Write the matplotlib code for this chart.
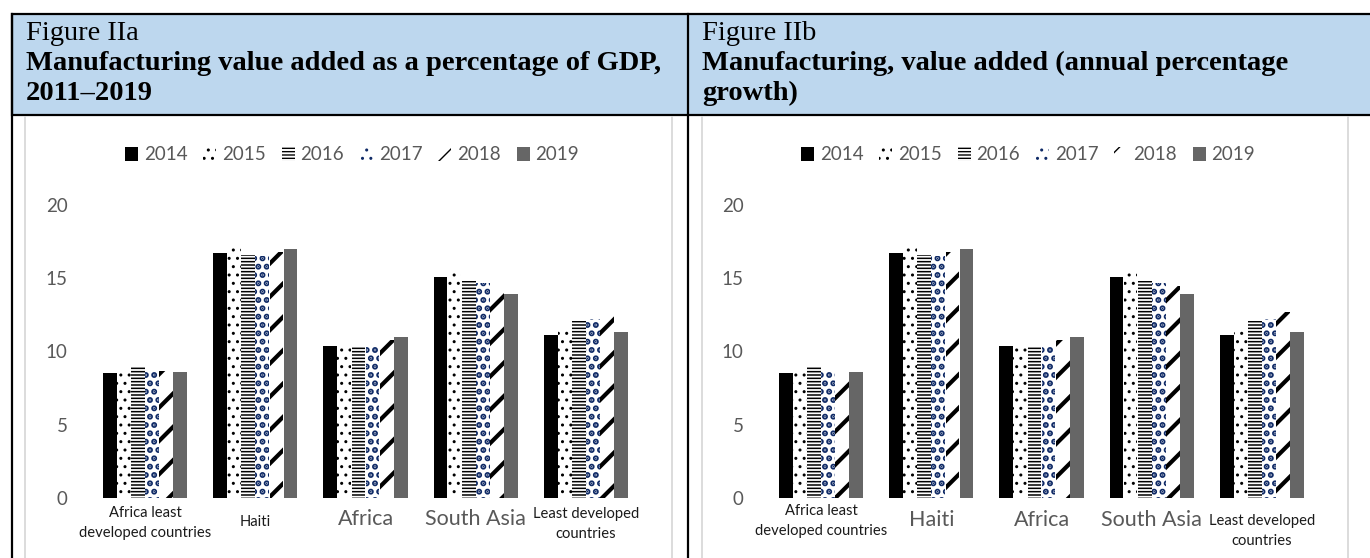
import numpy as np
import matplotlib.pyplot as plt
from matplotlib.patches import Rectangle
from matplotlib.lines import Line2D

# data (both panels carry the same values in the source document)
categories = ["Africa least\ndeveloped countries", "Haiti", "Africa", "South Asia",
              "Least developed\ncountries"]
years = ["2014", "2015", "2016", "2017", "2018", "2019"]
v2014 = [8.5, 16.7, 10.4, 15.1, 11.1]
v2015 = [8.7, 17.1, 10.3, 15.4, 11.6]
v2016 = [9.0, 16.6, 10.3, 14.8, 12.1]
v2017 = [8.7, 16.5, 10.3, 14.7, 12.2]
v2018 = [8.7, 16.8, 10.8, 14.5, 12.7]
v2019 = [8.6, 17.0, 11.0, 13.9, 11.3]
series = [v2014, v2015, v2016, v2017, v2018, v2019]

yticks = [0, 5, 10, 15, 20]

titles_a = ["Figure IIa", "Manufacturing value added as a percentage of GDP,", "2011\u20132019"]
titles_b = ["Figure IIb", "Manufacturing, value added (annual percentage", "growth)"]

# bar looks: (face, hatch colour, hatch, hatch linewidth)
styles = [
    ("black", "black", None, 1.0),
    ("white", "black", "..", 1.0),
    ("white", "black", "-----", 1.1),
    ("white", "#0F2A66", "..", 3.0),
    ("white", "black", "/", 3.0),
    ("#666666", "#666666", None, 1.0),
]

W, H = 1370, 558
fig = plt.figure(figsize=(W / 100, H / 100), dpi=100)

def fx(x):
    return x / W

def fy(y):
    return 1 - y / H

# header band and table borders
fig.add_artist(Rectangle((fx(12), fy(115)), fx(1372 - 12), (115 - 14) / H,
                         facecolor="#BDD7EE", edgecolor="black", linewidth=1.6,
                         transform=fig.transFigure))
for x in (12, 688):
    fig.add_artist(Line2D([fx(x), fx(x)], [fy(14), fy(560)], color="black", lw=1.6,
                          transform=fig.transFigure))
for x in (25, 672, 702, 1348):
    fig.add_artist(Line2D([fx(x), fx(x)], [fy(117), fy(560)], color="#d9d9d9", lw=1.3,
                          transform=fig.transFigure))

panels = [
    dict(dx=0, titles=titles_a, sizes=[10.6, 10.6, 15.5, 15.5, 10.6],
         ys=[523, 522, 519, 519, 524]),
    dict(dx=676, titles=titles_b, sizes=[10.6, 15.5, 15.5, 15.5, 10.6],
         ys=[521, 520, 520, 520, 531]),
]

x = np.arange(len(categories))
offsets = (np.arange(len(years)) - 2.5) * 0.128
bw = 0.125

for p in panels:
    dx = p["dx"]
    # header text
    for i, (t, yb) in enumerate(zip(p["titles"], [40, 70, 100])):
        fig.text(fx(26 + dx), fy(yb), t, fontsize=20.5, family="Liberation Serif",
                 fontweight="normal" if i == 0 else "bold", va="baseline", ha="left")

    ax = fig.add_axes([fx(90 + dx), fy(498), 551 / W, 293 / H])
    handles = []
    for vals, yr, (fc, hc, hatch, hlw) in zip(series, years, styles):
        with plt.rc_context({"hatch.linewidth": hlw}):
            b = ax.bar(x + offsets[years.index(yr)], vals, bw, color=fc, edgecolor=hc,
                       hatch=hatch, linewidth=0, label=yr)
        handles.append(b)

    ax.set_xlim(-0.5, len(categories) - 0.5)
    ax.set_ylim(0, 20)
    ax.set_yticks(yticks)
    ax.set_yticklabels([str(t) for t in yticks], fontsize=13.5, color="#595959",
                       family="Lato")
    ax.tick_params(axis="y", length=0, pad=16)
    ax.set_xticks([])
    for s in ax.spines.values():
        s.set_visible(False)

    for i, cat in enumerate(categories):
        small = p["sizes"][i] < 12
        ax.text(i, (498 - p["ys"][i]) / 293, cat, transform=ax.get_xaxis_transform(),
                ha="center", va="center", fontsize=p["sizes"][i], family="Lato",
                color="#1a1a1a" if small else "#595959", linespacing=1.5)

    ax.legend(handles=handles, ncol=6, loc="center",
              bbox_to_anchor=(fx(352 + dx), fy(155)), bbox_transform=fig.transFigure,
              frameon=False, labelcolor="#595959",
              prop={"family": "Lato", "size": 13.5},
              handlelength=0.7, handleheight=0.7, handletextpad=0.3, columnspacing=0.85)

fig.savefig("out.png", dpi=100)
